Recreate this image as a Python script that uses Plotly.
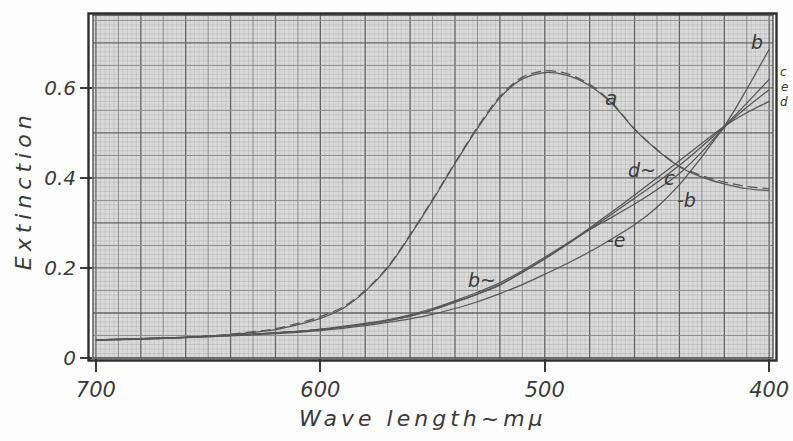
import plotly.graph_objects as go

# ---------------- data ----------------
wavelength = [700, 680, 660, 640, 620, 610, 600, 590, 580, 570, 560, 550, 540,
              530, 520, 510, 500, 490, 480, 470, 460, 450, 440, 430, 420, 410, 400]

ext_a = [0.040, 0.042, 0.046, 0.052, 0.063, 0.074, 0.088, 0.110, 0.148, 0.200,
         0.272, 0.350, 0.432, 0.510, 0.578, 0.620, 0.634, 0.628, 0.605, 0.565,
         0.508, 0.462, 0.425, 0.402, 0.387, 0.376, 0.372]
ext_a_dashed = [0.040, 0.042, 0.046, 0.053, 0.065, 0.077, 0.092, 0.113, 0.150, 0.202,
                0.274, 0.352, 0.434, 0.513, 0.581, 0.624, 0.638, 0.632, 0.608, 0.567,
                0.509, 0.463, 0.426, 0.405, 0.391, 0.381, 0.376]
ext_b = [0.040, 0.043, 0.046, 0.050, 0.056, 0.059, 0.064, 0.070, 0.077, 0.085,
         0.096, 0.110, 0.127, 0.146, 0.167, 0.194, 0.224, 0.255, 0.285, 0.313,
         0.342, 0.374, 0.410, 0.458, 0.515, 0.597, 0.686]
ext_c = [0.040, 0.043, 0.046, 0.050, 0.056, 0.059, 0.063, 0.069, 0.075, 0.083,
         0.093, 0.107, 0.124, 0.142, 0.162, 0.190, 0.220, 0.252, 0.286, 0.320,
         0.355, 0.390, 0.428, 0.470, 0.515, 0.566, 0.619]
ext_d = [0.040, 0.043, 0.046, 0.050, 0.056, 0.059, 0.063, 0.069, 0.075, 0.083,
         0.093, 0.107, 0.124, 0.142, 0.163, 0.191, 0.221, 0.254, 0.289, 0.325,
         0.362, 0.400, 0.438, 0.477, 0.515, 0.545, 0.570]
ext_e = [0.040, 0.042, 0.045, 0.049, 0.054, 0.057, 0.061, 0.066, 0.072, 0.079,
         0.087, 0.097, 0.110, 0.125, 0.143, 0.163, 0.186, 0.210, 0.236, 0.265,
         0.296, 0.335, 0.385, 0.447, 0.512, 0.557, 0.596]

x_ticks = [700, 600, 500, 400]
y_ticks = [0, 0.2, 0.4, 0.6]
y_tick_text = ["0", "0.2", "0.4", "0.6"]

curve_labels = ["a", "b", "c", "e", "d", "d~", "c", "-b", "-e", "b~"]

# ---------------- styling ----------------
X_RANGE = [701.3, 398.3]
Y_RANGE = [0, 0.762]
INK = "#3a3a3a"
CURVE = "#555555"
FONT = "DejaVu Sans"

fig = go.Figure()

series = [
    (ext_a, "solid"), (ext_a_dashed, "dash"), (ext_b, "solid"),
    (ext_c, "solid"), (ext_d, "solid"), (ext_e, "solid"),
]
for ys, dash in series:
    fig.add_trace(go.Scatter(
        x=wavelength, y=ys, mode="lines", hoverinfo="skip", showlegend=False,
        line=dict(color=CURVE, width=1.25, shape="spline", smoothing=0.8,
                  dash="10px,5px" if dash == "dash" else "solid"),
    ))

# graph-paper grid
shapes = []
for v in range(400, 702, 2):
    if v % 20 == 0:
        col, w = "#636363", 1.3
    elif v % 10 == 0:
        col, w = "#8c8c8c", 1.0
    else:
        col, w = "rgba(120,120,120,0.27)", 0.7
    shapes.append(dict(type="line", xref="x", yref="paper", x0=v, x1=v, y0=0, y1=1,
                       line=dict(color=col, width=w), layer="below"))
for k in range(1, 77):
    v = k / 100
    if k % 10 == 0:
        col, w = "#636363", 1.3
    elif k % 5 == 0:
        col, w = "#8c8c8c", 1.0
    else:
        col, w = "rgba(120,120,120,0.27)", 0.7
    shapes.append(dict(type="line", xref="paper", yref="y", x0=0, x1=1, y0=v, y1=v,
                       line=dict(color=col, width=w), layer="below"))
# double frame
shapes.append(dict(type="rect", xref="paper", yref="paper", x0=0, x1=1, y0=0, y1=1,
                   line=dict(color="#444444", width=1.3), layer="above"))
shapes.append(dict(type="rect", xref="paper", yref="paper",
                   x0=-4.5 / 680, x1=1 + 3.5 / 680, y0=-2.5 / 343, y1=1 + 1.5 / 343,
                   line=dict(color="#2e2e2e", width=2.4), layer="above"))


def to_paper_x(nm):
    return (X_RANGE[0] - nm) / (X_RANGE[0] - X_RANGE[1])


def to_paper_y(e):
    return (e - Y_RANGE[0]) / (Y_RANGE[1] - Y_RANGE[0])


label_pos = [(470.5, 0.578), (405.5, 0.702), (393.4, 0.635), (393.2, 0.602),
             (393.2, 0.569), (456.5, 0.418), (444.2, 0.400), (437.0, 0.352),
             (468.0, 0.262), (528.0, 0.174)]
label_size = [20, 19, 12, 12, 12, 19, 20, 19, 19, 19]
annotations = []
for txt, (lx, ly), fs in zip(curve_labels, label_pos, label_size):
    annotations.append(dict(x=to_paper_x(lx), y=to_paper_y(ly), xref="paper", yref="paper",
                            text=txt, showarrow=False, xanchor="center", yanchor="middle",
                            font=dict(family=FONT, size=fs, color=INK, style="italic")))

annotations.append(dict(x=-0.101, y=0.49, xref="paper", yref="paper",
                        text='<span style="letter-spacing:5px">Extinction</span>',
                        textangle=-90, showarrow=False, xanchor="center", yanchor="middle",
                        font=dict(family=FONT, size=22, color=INK, style="italic")))
annotations.append(dict(x=0.486, y=-0.175, xref="paper", yref="paper",
                        text='<span style="letter-spacing:4px">Wave length~mμ</span>',
                        showarrow=False, xanchor="center", yanchor="middle",
                        font=dict(family=FONT, size=22, color=INK, style="italic")))

fig.update_layout(
    template="none",
    width=793, height=441,
    margin=dict(l=93, r=20, t=15, b=83),
    paper_bgcolor="#fdfdfd", plot_bgcolor="#dadada",
    shapes=shapes, annotations=annotations,
    xaxis=dict(range=X_RANGE, tickmode="array", tickvals=x_ticks, automargin=False,
               ticks="outside", ticklen=13, tickwidth=1.5, tickcolor=INK,
               showgrid=False, zeroline=False, showline=False,
               tickfont=dict(family=FONT, size=21, color=INK, style="italic")),
    yaxis=dict(range=Y_RANGE, tickmode="array", tickvals=y_ticks, ticktext=y_tick_text,
               automargin=False,
               ticks="outside", ticklen=12, tickwidth=1.5, tickcolor=INK,
               showgrid=False, zeroline=False, showline=False,
               tickfont=dict(family=FONT, size=20, color=INK, style="italic")),
)

fig.write_html(
    "out.html",
    config={"responsive": False, "displayModeBar": False},
    post_script="document.body.style.margin='0';document.body.style.overflow='hidden';",
)
